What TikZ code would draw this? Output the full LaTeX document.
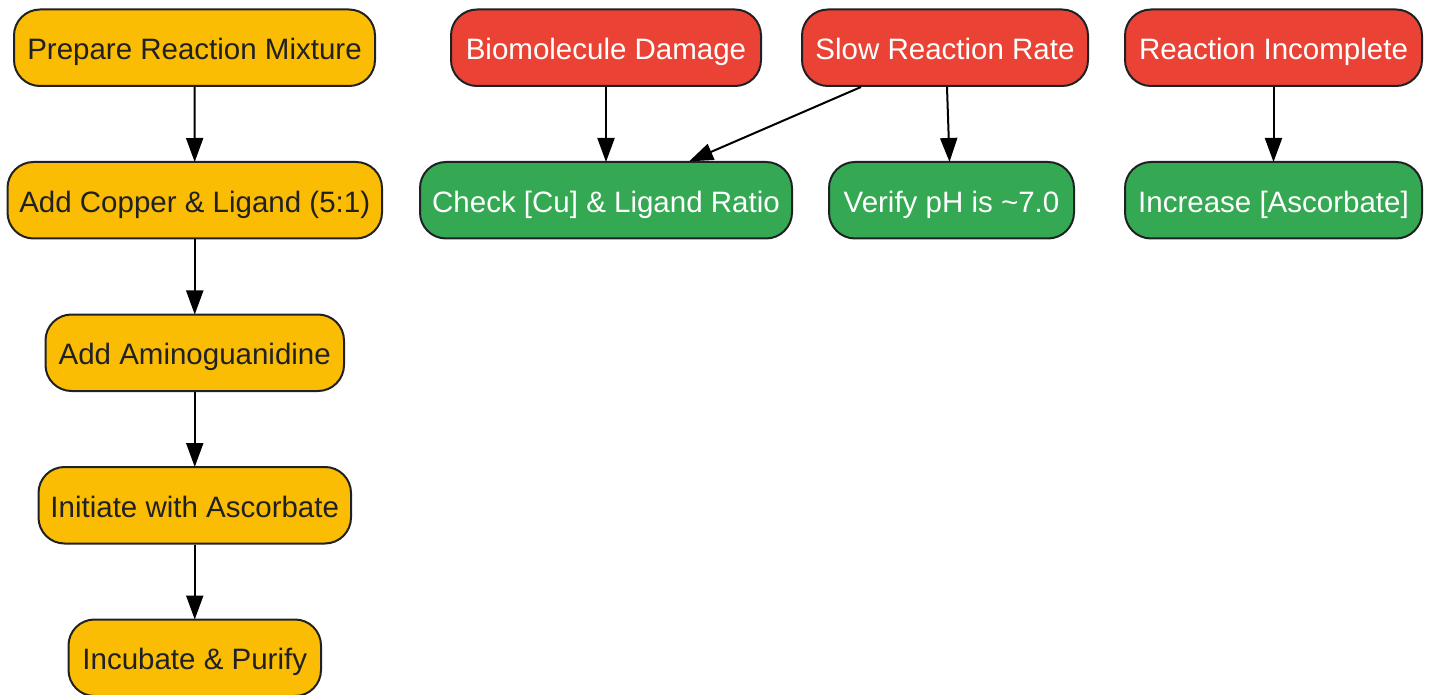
\documentclass[tikz,border=0pt]{standalone}
\usepackage{fontspec}
\setmainfont{Liberation Sans}
\usetikzlibrary{arrows.meta,calc}
\definecolor{amber}{HTML}{FBBC04}
\definecolor{redb}{HTML}{EA4335}
\definecolor{greenb}{HTML}{34A853}
\definecolor{ink}{HTML}{202124}
\tikzset{x=1pt,y=-1pt,
 boxbase/.style={draw=ink,line width=2pt,rounded corners=26pt,inner sep=0pt,text height=23.8pt,text depth=0pt,font=\fontsize{29.5}{34}\selectfont},
 amberbox/.style={boxbase,fill=amber,text=ink},
 redbox/.style={boxbase,fill=redb,text=white},
 greenbox/.style={boxbase,fill=greenb,text=white},
 conn/.style={draw=black,line width=2pt,shorten >=-1pt,-{Triangle[length=24pt,width=17pt]}}}
\newcommand{\bx}[7]{\node[#1,minimum width=#5*1pt-#4*1pt,minimum height=#7*1pt-#6*1pt] (#2) at ({(#4+#5)/2},{(#6+#7)/2}) {#3};}
\begin{document}
\begin{tikzpicture}
\useasboundingbox (0,0) rectangle (1433,695);
\bx{amberbox}{a1}{Prepare Reaction Mixture}{14}{375}{9.5}{86}
\bx{amberbox}{a2}{Add Copper \& Ligand (5:1)}{7.5}{382}{162}{238.5}
\bx{amberbox}{a3}{Add Aminoguanidine}{45.5}{344}{314.5}{391}
\bx{amberbox}{a4}{Initiate with Ascorbate}{38.5}{351}{467}{543.5}
\bx{amberbox}{a5}{Incubate \& Purify}{68.5}{321}{619.5}{696}
\bx{redbox}{r1}{Biomolecule Damage}{451}{761}{9.5}{86}
\bx{redbox}{r2}{Slow Reaction Rate}{802}{1088}{9.5}{86}
\bx{redbox}{r3}{Reaction Incomplete}{1125}{1422}{9.5}{86}
\bx{greenbox}{g1}{Check [Cu] \& Ligand Ratio}{420}{792}{162}{238.5}
\bx{greenbox}{g2}{Verify pH is \textasciitilde7.0}{829}{1074}{162}{238.5}
\bx{greenbox}{g3}{Increase [Ascorbate]}{1125}{1422}{162}{238.5}
\draw[conn] (a1) -- (a2);
\draw[conn] (a2) -- (a3);
\draw[conn] (a3) -- (a4);
\draw[conn] (a4) -- (a5);
\draw[conn] (r1) -- (g1);
\draw[conn] ($(r2.south)+(-84,0)$) -- ($(g1.north)+(84,0)$);
\draw[conn] ($(r2.south)+(2,0)$) -- ($(g2.north)+(-2,0)$);
\draw[conn] (r3) -- (g3);
\end{tikzpicture}
\end{document}
